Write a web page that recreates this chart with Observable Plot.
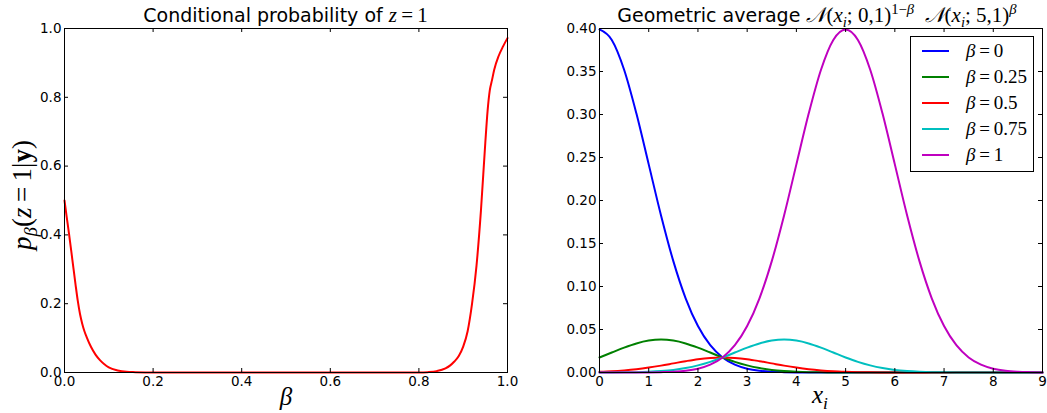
<!DOCTYPE html>
<html><head><meta charset="utf-8">
<script src="https://cdn.jsdelivr.net/npm/d3@7"></script>
<script src="https://cdn.jsdelivr.net/npm/@observablehq/plot@0.6"></script>
<style>
body{margin:0;background:#fff;}
#wrap{position:relative;width:1047px;height:413px;overflow:hidden;font-family:"DejaVu Sans",sans-serif;color:#000;background:#fff;}
#wrap svg{position:absolute;left:0;top:0;}
.abs{position:absolute;white-space:nowrap;}
.m{font-family:"Liberation Serif",serif;}
.eq{margin:0 0.2em;}
.title{font-size:19px;line-height:19px;text-align:center;width:600px;}
sub,sup{font-size:70%;line-height:0;}
#legend{position:absolute;left:910px;top:36px;width:122px;height:134px;border:1px solid #000;background:#fff;}
#legend .row{position:absolute;left:0;height:20px;width:122px;}
#legend .ln{position:absolute;left:11px;top:9px;width:27px;height:2px;}
#legend .tx{position:absolute;left:55px;top:0;font-size:19px;line-height:20px;font-family:"Liberation Serif",serif;}
</style></head><body><div id="wrap"></div>
<script>
// ---- Left panel data: conditional probability p_beta(z=1|y) vs beta ----
const betaL = [0,0.005,0.01,0.015,0.02,0.025,0.03,0.035,0.04,0.045,0.05,0.06,0.07,0.08,0.09,0.10,0.12,0.14,0.16,0.20,0.30,0.40,0.50,0.60,0.70,0.80,0.82,0.84,0.86,0.87,0.88,0.89,0.90,0.91,0.92,0.93,0.94,0.95,0.955,0.96,0.965,0.97,0.98,0.99,1.00];
const probL = [0.50,0.452,0.405,0.356,0.305,0.255,0.208,0.17,0.142,0.12,0.103,0.074,0.052,0.036,0.024,0.015,0.006,0.002,0.001,0,0,0,0,0,0,0,0.001,0.004,0.012,0.02,0.032,0.048,0.075,0.12,0.20,0.31,0.47,0.67,0.76,0.82,0.85,0.88,0.92,0.948,0.972];
const xTicksL = [0,0.2,0.4,0.6,0.8,1.0];
const yTicksL = [0,0.2,0.4,0.6,0.8,1.0];

// ---- Right panel data: geometric averages for several beta ----
const xR = [0,0.25,0.5,0.75,1,1.25,1.5,1.75,2,2.25,2.5,2.75,3,3.25,3.5,3.75,4,4.25,4.5,4.75,5,5.25,5.5,5.75,6,6.25,6.5,6.75,7,7.25,7.5,7.75,8,8.25,8.5,8.75,9];
const b000 = [0.3989,0.3867,0.3521,0.3011,0.2420,0.1826,0.1295,0.0863,0.0540,0.0317,0.0175,0.0091,0.0044,0.0020,0.0009,0.0004,0.0001,0,0,0,0,0,0,0,0,0,0,0,0,0,0,0,0,0,0,0,0];
const b025 = [0.0175,0.0232,0.0289,0.0338,0.0371,0.0383,0.0371,0.0338,0.0289,0.0232,0.0175,0.0124,0.0083,0.0052,0.0030,0.0017,0.0009,0.0004,0.0002,0.0001,0,0,0,0,0,0,0,0,0,0,0,0,0,0,0,0,0];
const b050 = [0.0008,0.0014,0.0024,0.0038,0.0057,0.0080,0.0106,0.0132,0.0155,0.0170,0.0175,0.0170,0.0155,0.0132,0.0106,0.0080,0.0057,0.0038,0.0024,0.0014,0.0008,0.0004,0.0002,0.0001,0,0,0,0,0,0,0,0,0,0,0,0,0];
const b075 = [0,0.0001,0.0002,0.0004,0.0009,0.0017,0.0030,0.0052,0.0083,0.0124,0.0175,0.0232,0.0289,0.0338,0.0371,0.0383,0.0371,0.0338,0.0289,0.0232,0.0175,0.0124,0.0083,0.0052,0.0030,0.0017,0.0009,0.0004,0.0002,0.0001,0,0,0,0,0,0,0];
const b100 = [0,0,0,0,0.0001,0.0004,0.0009,0.0020,0.0044,0.0091,0.0175,0.0317,0.0540,0.0863,0.1295,0.1826,0.2420,0.3011,0.3521,0.3867,0.3989,0.3867,0.3521,0.3011,0.2420,0.1826,0.1295,0.0863,0.0540,0.0317,0.0175,0.0091,0.0044,0.0020,0.0009,0.0004,0.0001];
const seriesNames = ["0","0.25","0.5","0.75","1"];
const seriesColors = ["#0000ff","#008000","#ff0000","#00bfbf","#bf00bf"];
const seriesValues = [b000,b025,b050,b075,b100];
const xTicksR = [0,1,2,3,4,5,6,7,8,9];
const yTicksR = [0,0.05,0.10,0.15,0.20,0.25,0.30,0.35,0.40];

const W = 1047, H = 413;
const mTop = 28, mBottom = 372;
const ph = mBottom - mTop;
const tickLen = 4;
const plotStyle = {fontFamily:"DejaVu Sans", fontSize:"13.5px", color:"#000", background:"transparent", overflow:"visible"};

function boxTicks(xt, yt, pw) {
  return [
    Plot.tickX(xt, {x: d => d, insetTop: ph - tickLen, stroke: "#000"}),
    Plot.tickX(xt, {x: d => d, insetBottom: ph - tickLen, stroke: "#000"}),
    Plot.tickY(yt, {y: d => d, insetRight: pw - tickLen, stroke: "#000"}),
    Plot.tickY(yt, {y: d => d, insetLeft: pw - tickLen, stroke: "#000"})
  ];
}

const leftRows = betaL.map((b, i) => ({beta: b, p: probL[i]}));
const lx0 = 64, lx1 = 507;
const leftPlot = Plot.plot({
  width: W, height: H, marginLeft: lx0, marginRight: W - lx1, marginTop: mTop, marginBottom: H - mBottom,
  style: plotStyle,
  x: {domain: [0, 1]},
  y: {domain: [0, 1]},
  marks: [
    Plot.line(leftRows, {x: "beta", y: "p", stroke: "#ff0000", strokeWidth: 2, curve: "monotone-x"}),
    Plot.frame({stroke: "#000"}),
    ...boxTicks(xTicksL, yTicksL, lx1 - lx0),
    Plot.axisX(xTicksL, {tickSize: 0, tickPadding: 4, tickFormat: d3.format(".1f"), label: null}),
    Plot.axisY(yTicksL, {tickSize: 0, tickPadding: 3, tickFormat: d3.format(".1f"), label: null})
  ]
});

const rightRows = [];
seriesNames.forEach((name, s) => xR.forEach((x, i) => rightRows.push({x, y: seriesValues[s][i], beta: name})));
const rx0 = 599, rx1 = 1042;
const rightPlot = Plot.plot({
  width: W, height: H, marginLeft: rx0, marginRight: W - rx1, marginTop: mTop, marginBottom: H - mBottom,
  style: plotStyle,
  x: {domain: [0, 9]},
  y: {domain: [0, 0.4]},
  color: {domain: seriesNames, range: seriesColors},
  marks: [
    Plot.line(rightRows, {x: "x", y: "y", z: "beta", stroke: "beta", strokeWidth: 2, curve: "monotone-x"}),
    Plot.frame({stroke: "#000"}),
    ...boxTicks(xTicksR, yTicksR, rx1 - rx0),
    Plot.axisX(xTicksR, {tickSize: 0, tickPadding: 4, tickFormat: d3.format("d"), label: null}),
    Plot.axisY(yTicksR, {tickSize: 0, tickPadding: 3, tickFormat: d3.format(".2f"), label: null})
  ]
});

const wrap = document.getElementById("wrap");
wrap.appendChild(leftPlot);
wrap.appendChild(rightPlot);

function addDiv(html, css, cls) {
  const d = document.createElement("div");
  d.className = "abs " + (cls || "");
  d.innerHTML = html;
  Object.assign(d.style, css);
  wrap.appendChild(d);
  return d;
}
// Titles
addDiv('Conditional probability of <span class="m" style="font-size:21px"><i>z</i><span class="eq">=</span>1</span>',
  {left: (285.5 - 300) + "px", top: "6px"}, "title");
addDiv('Geometric average <span class="m" style="font-size:21px"><i>&#x1D4A9;</i>(<i>x</i><sub><i>i</i></sub>; 0,1)<sup>1&#8722;<i>&beta;</i></sup> &nbsp;<i>&#x1D4A9;</i>(<i>x</i><sub><i>i</i></sub>; 5,1)<sup><i>&beta;</i></sup></span>',
  {left: (817 - 300) + "px", top: "6px"}, "title");
// Axis labels
addDiv('<i>&beta;</i>', {left: "230px", width: "112px", textAlign: "center", top: "384px", fontSize: "25px", lineHeight: "25px"}, "m");
addDiv('<i>x</i><sub><i>i</i></sub>', {left: "764px", width: "112px", textAlign: "center", top: "382px", fontSize: "25px", lineHeight: "25px"}, "m");
addDiv('<i>p</i><sub><i>&beta;</i></sub>(<i>z</i><span class="eq">=</span>1|<b>y</b>)',
  {left: "22px", top: "195px", fontSize: "27px", lineHeight: "27px", transform: "translate(-50%,-50%) rotate(-90deg)"}, "m");

// Legend
const leg = document.createElement("div");
leg.id = "legend";
seriesNames.forEach((name, i) => {
  const r = document.createElement("div");
  r.className = "row";
  r.style.top = (4 + i * 26) + "px";
  r.innerHTML = `<div class="ln" style="background:${seriesColors[i]}"></div><div class="tx"><i>&beta;</i><span class="eq">=</span>${name}</div>`;
  leg.appendChild(r);
});
wrap.appendChild(leg);
</script></body></html>
